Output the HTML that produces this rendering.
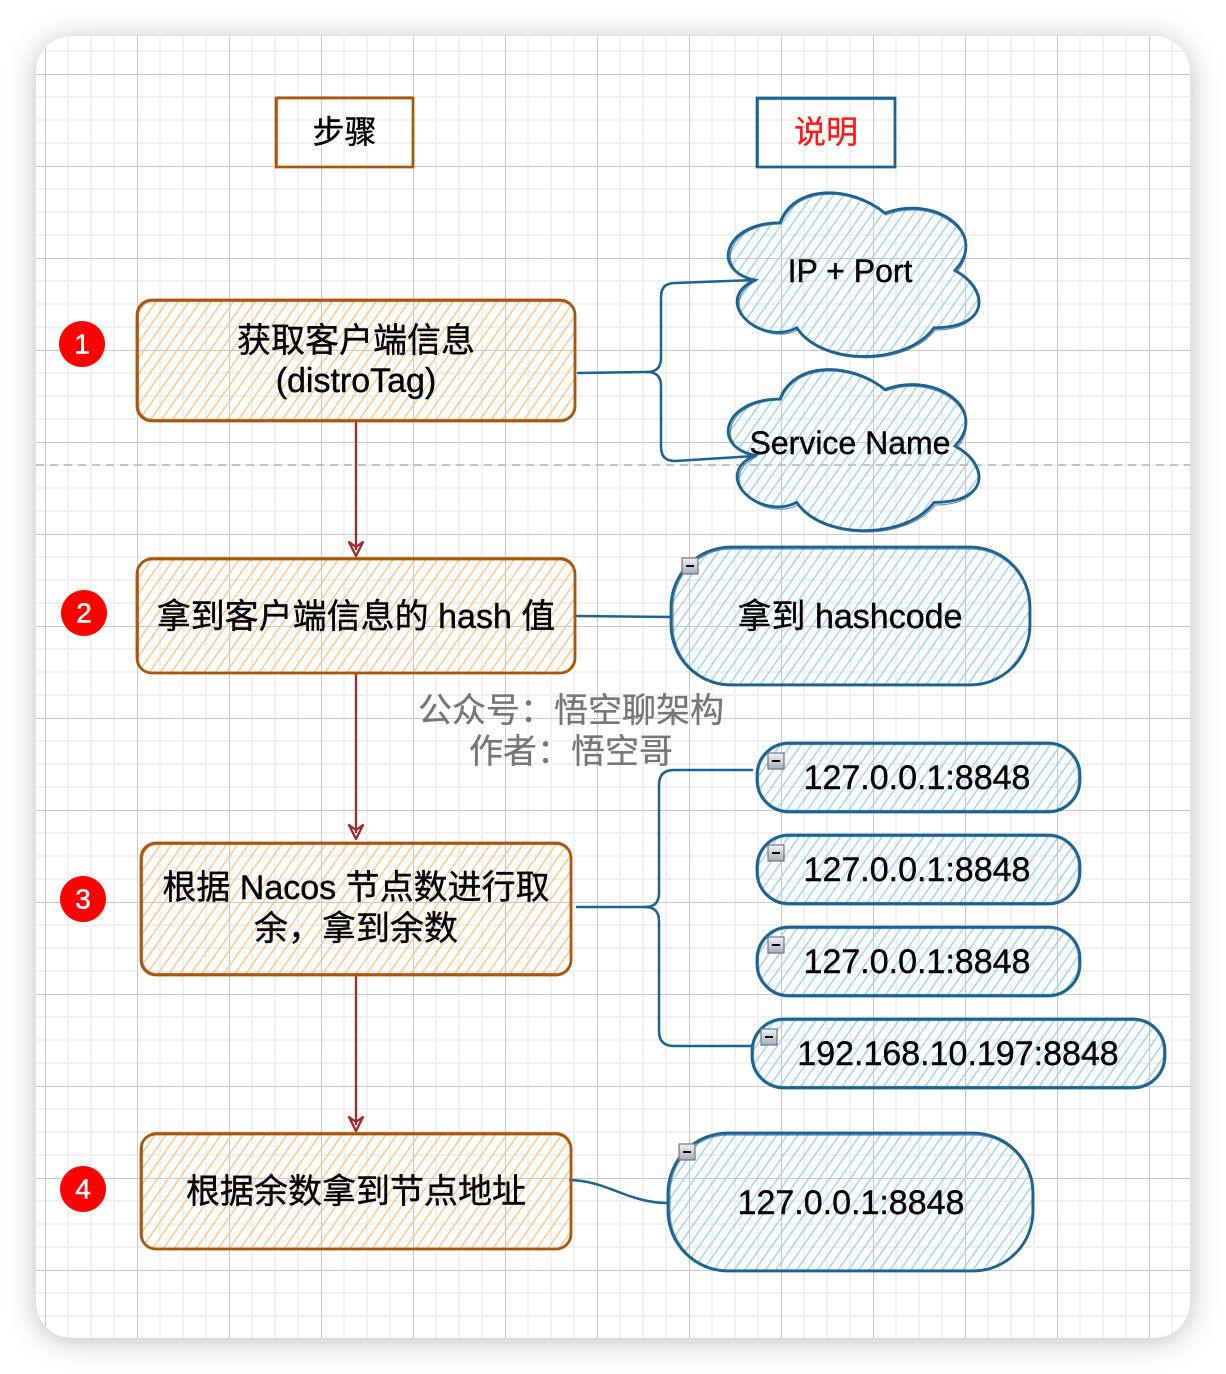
<!DOCTYPE html>
<html>
<head>
<meta charset="utf-8">
<style>
  html,body{margin:0;padding:0;background:#ffffff;}
  body{width:1226px;height:1374px;position:relative;overflow:hidden;}
  #panel{position:absolute;left:36px;top:36px;width:1154px;height:1302px;border-radius:36px;background:#fff;box-shadow:0 3px 30px rgba(0,0,0,0.26);}
  svg{position:absolute;left:0;top:0;}
  text{font-family:"Liberation Sans","Noto Sans CJK SC",sans-serif;}
</style>
</head>
<body>
<div id="panel"></div>
<svg width="1226" height="1374" viewBox="0 0 1226 1374" xmlns="http://www.w3.org/2000/svg">
  <defs>
    <clipPath id="pc"><rect x="36" y="36" width="1154" height="1302" rx="36" ry="36"/></clipPath>
    <pattern id="grid" patternUnits="userSpaceOnUse" x="45" y="74" width="92" height="92">
      <line x1="23" y1="0" x2="23" y2="92" stroke="#f1f1f1" stroke-width="2"/>
      <line x1="46" y1="0" x2="46" y2="92" stroke="#f1f1f1" stroke-width="2"/>
      <line x1="69" y1="0" x2="69" y2="92" stroke="#f1f1f1" stroke-width="2"/>
      <line x1="0" y1="23" x2="92" y2="23" stroke="#f1f1f1" stroke-width="2"/>
      <line x1="0" y1="46" x2="92" y2="46" stroke="#f1f1f1" stroke-width="2"/>
      <line x1="0" y1="69" x2="92" y2="69" stroke="#f1f1f1" stroke-width="2"/>
      <line x1="0.5" y1="0" x2="0.5" y2="92" stroke="#c8c8c8" stroke-width="1"/>
      <line x1="0" y1="0.5" x2="92" y2="0.5" stroke="#c8c8c8" stroke-width="1"/>
    </pattern>
    <pattern id="ho" patternUnits="userSpaceOnUse" width="9" height="9" patternTransform="rotate(35)">
      <line x1="4" y1="0" x2="4" y2="9" stroke="#f6c48c" stroke-width="1.4"/>
    </pattern>
    <pattern id="hb" patternUnits="userSpaceOnUse" width="8.5" height="8.5" patternTransform="rotate(35)">
      <line x1="4" y1="0" x2="4" y2="8.5" stroke="#9ed1ec" stroke-width="1.4"/>
    </pattern>
    <linearGradient id="ig" x1="0" y1="0" x2="0" y2="1">
      <stop offset="0" stop-color="#f2f3f5"/>
      <stop offset="1" stop-color="#a9adb6"/>
    </linearGradient>
  </defs>

  <!-- grid -->
  <g clip-path="url(#pc)">
    <rect x="36" y="36" width="1154" height="1302" fill="url(#grid)"/>
    <line x1="36" y1="465" x2="1190" y2="465" stroke="#b4b4b4" stroke-width="1.6" stroke-dasharray="8 6"/>
  </g>

  <!-- header boxes -->
  <rect x="276" y="98" width="137" height="69" fill="none" stroke="#a8570f" stroke-width="2.7"/>
  <rect x="277.5" y="97" width="135" height="70" fill="none" stroke="#a8570f" stroke-width="1.2" opacity="0.7"/>
  <text x="344.5" y="132" font-size="32" text-anchor="middle" dominant-baseline="central" fill="#000" stroke="#000" stroke-width="0.4">步骤</text>

  <rect x="757" y="98" width="138" height="69" fill="none" stroke="#1d6290" stroke-width="2.7"/>
  <rect x="758.5" y="99.5" width="136" height="67" fill="none" stroke="#1d6290" stroke-width="1.2" opacity="0.7"/>
  <text x="826" y="132" font-size="32" text-anchor="middle" dominant-baseline="central" fill="#ff1a1a" stroke="#ff1a1a" stroke-width="0.3">说明</text>

  <!-- connectors (blue) -->
  <g fill="none" stroke="#1d6290" stroke-width="2.5" stroke-linecap="round">
    <path d="M578,373 L647,372 Q661,372 661,358 L661,297 Q661,283 675,283 L755,280"/>
    <path d="M647,372 Q661,372 661,386 L661,447 Q661,461 675,461 L755,456"/>
    <path d="M577,616 L671,617"/>
    <path d="M577,907 L645,907 Q659,907 659,893 L659,785 Q659,770 674,770 L752,770"/>
    <path d="M645,907 Q659,907 659,921 L659,1031 Q659,1046 674,1046 L752,1046"/>
    <path d="M570,1180 C608,1181 628,1203 668,1203"/>
  </g>

  <!-- red arrows -->
  <g fill="none" stroke="#9e2a2b" stroke-width="2.3" stroke-linejoin="round">
    <line x1="356" y1="421" x2="356" y2="550"/>
    <path d="M349,542 L356,556 L363,542 L356,547 Z"/>
    <line x1="356" y1="673" x2="356" y2="833"/>
    <path d="M349,825 L356,839 L363,825 L356,830 Z"/>
    <line x1="356" y1="975" x2="356" y2="1125"/>
    <path d="M349,1117 L356,1131 L363,1117 L356,1122 Z"/>
  </g>

  <!-- step boxes -->
  <g stroke="#a8570f" fill="url(#ho)">
    <rect x="137" y="300" width="438" height="121" rx="15" stroke-width="2.8"/>
    <rect x="138.5" y="301.5" width="436" height="118" rx="14" stroke-width="1.2" fill="none" opacity="0.7"/>
    <rect x="137" y="559" width="438" height="114" rx="15" stroke-width="2.8"/>
    <rect x="138.5" y="557.5" width="436" height="116" rx="14" stroke-width="1.2" fill="none" opacity="0.7"/>
    <rect x="141" y="843" width="430" height="132" rx="15" stroke-width="2.8"/>
    <rect x="142.5" y="844.5" width="428" height="129" rx="14" stroke-width="1.2" fill="none" opacity="0.7"/>
    <rect x="141" y="1134" width="430" height="115" rx="15" stroke-width="2.8"/>
    <rect x="142.5" y="1132.5" width="428" height="117" rx="14" stroke-width="1.2" fill="none" opacity="0.7"/>
  </g>
  <g font-size="34" text-anchor="middle" dominant-baseline="central" fill="#000" stroke="#000" stroke-width="0.4">
    <text x="356" y="341">获取客户端信息</text>
    <text x="356" y="381">(distroTag)</text>
    <text x="356" y="617">拿到客户端信息的 hash 值</text>
    <text x="356" y="888">根据 Nacos 节点数进行取</text>
    <text x="356" y="929">余，拿到余数</text>
    <text x="356" y="1192">根据余数拿到节点地址</text>
  </g>

  <!-- number circles -->
  <g fill="#ff0000">
    <circle cx="82" cy="344" r="23"/>
    <circle cx="84" cy="613" r="23"/>
    <circle cx="83" cy="899" r="23"/>
    <circle cx="83" cy="1189" r="23"/>
  </g>
  <g font-size="28" text-anchor="middle" dominant-baseline="central" fill="#fff" stroke="#fff" stroke-width="0.5">
    <text x="82" y="344">1</text>
    <text x="84" y="613">2</text>
    <text x="83" y="899">3</text>
    <text x="83" y="1189">4</text>
  </g>

  <!-- clouds -->
  <g stroke="#1d6290" fill="url(#hb)" stroke-width="2.8">
    <path d="M780,222.75 C724,222.75 710,270.5 754.8,280.05 C710,301.06 760.4,346.9 796.8,327.8 C822,366 906,366 934,327.8 C990,327.8 990,289.6 955,270.5 C990,232.3 934,194.1 885,213.2 C850,184.55 794,184.55 780,222.75 Z"/>
    <path d="M780,399 C724,399 710,446 754.8,455.4 C710,476.08 760.4,521.2 796.8,502.4 C822,540 906,540 934,502.4 C990,502.4 990,464.8 955,446 C990,408.4 934,370.8 885,389.6 C850,361.4 794,361.4 780,399 Z"/>
  </g>
  <g stroke="#1d6290" fill="none" stroke-width="1.2" opacity="0.7">
    <path d="M781,224 C726,224 713,271 756,281 C713,303 762,348 798,330 C823,367 907,367 935,330 C988,330 988,291 957,272 C988,234 934,196 886,215 C851,186 795,186 781,224 Z"/>
    <path d="M781,400 C726,400 713,447 756,457 C713,478 762,523 798,505 C823,541 907,541 935,505 C988,505 988,466 957,448 C988,410 934,373 886,391 C851,363 795,363 781,400 Z"/>
  </g>
  <g font-size="32" text-anchor="middle" dominant-baseline="central" fill="#000" stroke="#000" stroke-width="0.4">
    <text x="850" y="271">IP + Port</text>
    <text x="850" y="443">Service Name</text>
  </g>

  <!-- pills -->
  <g stroke="#1d6290" fill="url(#hb)">
    <rect x="671" y="547" width="359" height="138" rx="60" stroke-width="2.8"/>
    <rect x="673" y="549" width="356" height="135" rx="58" stroke-width="1.2" fill="none" opacity="0.7"/>
    <rect x="757" y="743" width="323" height="69" rx="32" stroke-width="2.8"/>
    <rect x="758.5" y="744.5" width="320" height="66" rx="30" stroke-width="1.2" fill="none" opacity="0.7"/>
    <rect x="757" y="835" width="323" height="69" rx="32" stroke-width="2.8"/>
    <rect x="758.5" y="836.5" width="320" height="66" rx="30" stroke-width="1.2" fill="none" opacity="0.7"/>
    <rect x="757" y="927" width="323" height="69" rx="32" stroke-width="2.8"/>
    <rect x="758.5" y="928.5" width="320" height="66" rx="30" stroke-width="1.2" fill="none" opacity="0.7"/>
    <rect x="752" y="1019" width="413" height="69" rx="32" stroke-width="2.8"/>
    <rect x="753.5" y="1020.5" width="410" height="66" rx="30" stroke-width="1.2" fill="none" opacity="0.7"/>
    <rect x="668" y="1133" width="365" height="138" rx="60" stroke-width="2.8"/>
    <rect x="670" y="1135" width="362" height="135" rx="58" stroke-width="1.2" fill="none" opacity="0.7"/>
  </g>
  <g font-size="34" text-anchor="middle" dominant-baseline="central" fill="#000" stroke="#000" stroke-width="0.4">
    <text x="850" y="617">拿到 hashcode</text>
    <text x="917" y="778">127.0.0.1:8848</text>
    <text x="917" y="870">127.0.0.1:8848</text>
    <text x="917" y="962">127.0.0.1:8848</text>
    <text x="958" y="1054">192.168.10.197:8848</text>
    <text x="851" y="1203">127.0.0.1:8848</text>
  </g>

  <!-- collapse icons -->
  <g>
    <rect x="682" y="558" width="16" height="16" fill="url(#ig)" stroke="#6f7585" stroke-width="1.2"/>
    <line x1="686" y1="566" x2="694" y2="566" stroke="#000" stroke-width="2"/>
    <rect x="768" y="753" width="16" height="16" fill="url(#ig)" stroke="#6f7585" stroke-width="1.2"/>
    <line x1="772" y1="761" x2="780" y2="761" stroke="#000" stroke-width="2"/>
    <rect x="768" y="845" width="16" height="16" fill="url(#ig)" stroke="#6f7585" stroke-width="1.2"/>
    <line x1="772" y1="853" x2="780" y2="853" stroke="#000" stroke-width="2"/>
    <rect x="768" y="937" width="16" height="16" fill="url(#ig)" stroke="#6f7585" stroke-width="1.2"/>
    <line x1="772" y1="945" x2="780" y2="945" stroke="#000" stroke-width="2"/>
    <rect x="761" y="1029" width="16" height="16" fill="url(#ig)" stroke="#6f7585" stroke-width="1.2"/>
    <line x1="765" y1="1037" x2="773" y2="1037" stroke="#000" stroke-width="2"/>
    <rect x="679" y="1144" width="16" height="16" fill="url(#ig)" stroke="#6f7585" stroke-width="1.2"/>
    <line x1="683" y1="1152" x2="691" y2="1152" stroke="#000" stroke-width="2"/>
  </g>

  <!-- watermark -->
  <g font-size="34" text-anchor="middle" dominant-baseline="central" fill="#767676" stroke="#767676" stroke-width="0.3">
    <text x="571" y="711">公众号：悟空聊架构</text>
    <text x="571" y="752">作者：悟空哥</text>
  </g>
</svg>
</body>
</html>
